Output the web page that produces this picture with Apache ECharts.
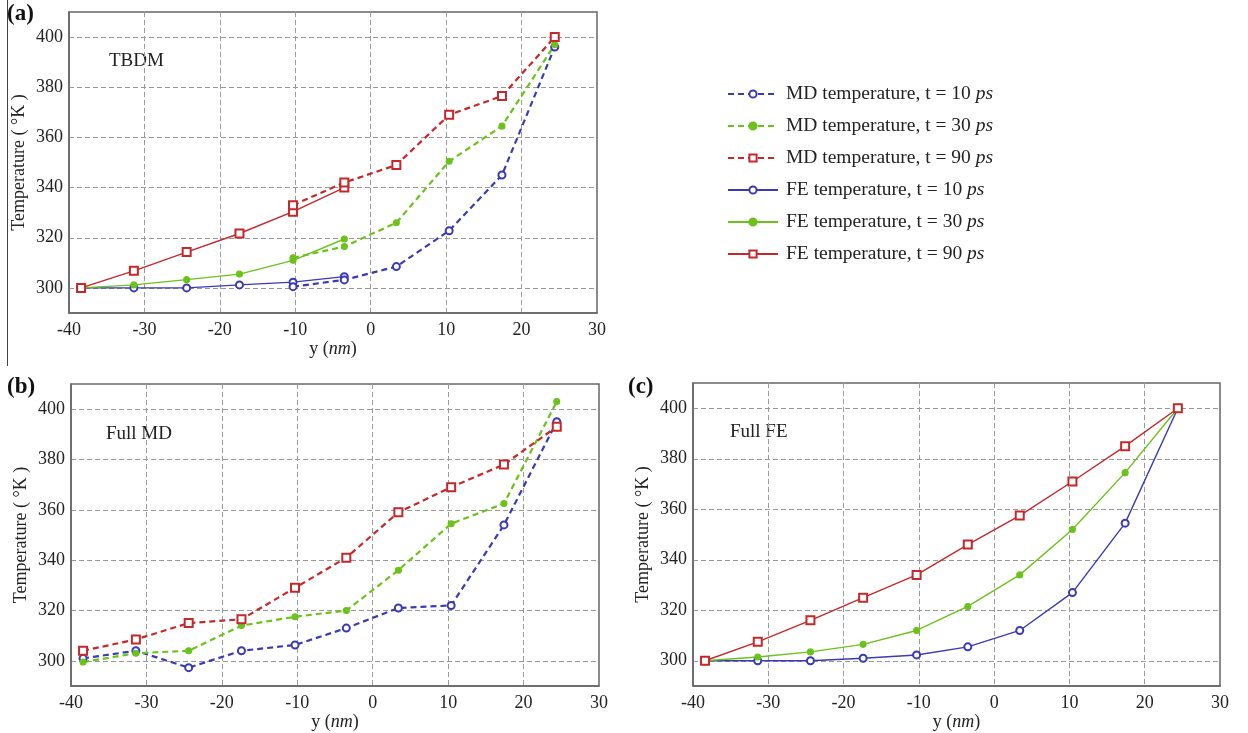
<!doctype html>
<html>
	<head>
		<meta charset="UTF-8">
		<title>Temperature profiles</title>
		<style>
			html, body { margin: 0; padding: 0; background: #fff; }
			#main { width: 1248px; height: 733px; }
		</style>
	</head>
	<body>
		<div id="main"></div>
		<script src="https://cdn.jsdelivr.net/npm/echarts@6.0.0/dist/echarts.min.js"></script>
		<script>
			// y positions (nm) of the sampled points
			var yPos = [-38.4, -31.4, -24.4, -17.4, -10.3, -3.5, 3.4, 10.4, 17.4, 24.4];
			var tempTicks = [300, 320, 340, 360, 380, 400];

			// (a) TBDM: MD part from -10.3 up, FE part up to -3.5
			var tbdmMd10 = [300.5, 303.2, 308.5, 322.8, 345, 396];
			var tbdmMd30 = [312, 316.5, 326, 350.5, 364.5, 397];
			var tbdmMd90 = [333, 342, 349, 369, 376.5, 400];
			var tbdmFe10 = [300, 300, 300, 301.2, 302.3, 304.5];
			var tbdmFe30 = [300, 301.2, 303.3, 305.5, 311, 319.5];
			var tbdmFe90 = [300, 306.8, 314.3, 321.7, 330.4, 340];

			// (b) Full MD
			var fullMd10 = [301, 304, 297.3, 304, 306.3, 313, 321, 322, 354, 395];
			var fullMd30 = [299.5, 303, 304, 314, 317.5, 320, 336, 354.5, 362.5, 403];
			var fullMd90 = [304, 308.5, 315, 316.5, 329, 341, 359, 369, 378, 393];

			// (c) Full FE
			var fullFe10 = [300, 300, 300, 301, 302.3, 305.5, 312, 327, 354.5, 400];
			var fullFe30 = [300, 301.5, 303.5, 306.5, 312, 321.5, 334, 352, 374.5, 400];
			var fullFe90 = [300, 307.5, 316, 325, 334, 346, 357.5, 371, 385, 400];

			var names = [
				'MD temperature, t = 10 ps',
				'MD temperature, t = 30 ps',
				'MD temperature, t = 90 ps',
				'FE temperature, t = 10 ps',
				'FE temperature, t = 30 ps',
				'FE temperature, t = 90 ps'
			];

			var BLUE = '#3a3ab2', GREEN = '#6cc21c', RED = '#c4282a';
			var FONT = '"Liberation Serif", "DejaVu Serif", serif';

			function pairs(xs, vals) {
				var out = [];
				for (var i = 0; i < vals.length; i++) out.push([xs[i], vals[i]]);
				return out;
			}

			function mkSeries(name, idx, xs, vals, color, md) {
				var sym = color == GREEN ? 'circle' : (color == RED ? 'emptyRect' : 'emptyCircle');
				return {
					name: name,
					type: 'line',
					xAxisIndex: idx,
					yAxisIndex: idx,
					data: pairs(xs, vals),
					symbol: sym,
					symbolSize: color == RED ? 8 : (color == GREEN ? 6 : 7),
					showAllSymbol: true,
					animation: false,
					color: color,
					itemStyle: { color: color, borderColor: color, borderWidth: 1.1 },
					lineStyle: md ? { color: color, width: 2.2, type: [6, 4] } : { color: color, width: 1.4, type: 'solid' },
					z: md ? 3 : 2
				};
			}

			var grids = [
				{ left: 69, top: 12, width: 528, height: 301 },
				{ left: 71, top: 384, width: 528, height: 302 },
				{ left: 693, top: 383, width: 527, height: 303 }
			];

			var xAxes = [], yAxes = [];
			for (var g = 0; g < 3; g++) {
				grids[g].show = true;
				grids[g].borderColor = '#666';
				grids[g].borderWidth = 1.5;
				grids[g].backgroundColor = '#fff';
				xAxes.push({
					type: 'value', gridIndex: g, min: -40, max: 30, interval: 10,
					axisLine: { show: true, onZero: false, lineStyle: { color: '#666', width: 1.5 } },
					axisTick: { show: false },
					axisLabel: { fontFamily: FONT, fontSize: 18, color: '#222', margin: 8 },
					splitLine: { show: true, showMinLine: false, showMaxLine: false, lineStyle: { color: '#999', width: 1, type: [5, 3] } },
					name: '{a|y (}{b|nm}{a|)}',
					nameLocation: 'middle',
					nameGap: 27,
					nameTextStyle: {
						rich: {
							a: { fontFamily: FONT, fontSize: 18, color: '#222' },
							b: { fontFamily: FONT, fontSize: 18, color: '#222', fontStyle: 'italic' }
						}
					}
				});
				yAxes.push({
					type: 'value', gridIndex: g, min: 290, max: 410,
					axisLine: { show: true, onZero: false, lineStyle: { color: '#666', width: 1.5 } },
					axisTick: { show: false, customValues: tempTicks },
					axisLabel: { fontFamily: FONT, fontSize: 18, color: '#222', margin: 6, customValues: tempTicks },
					splitLine: { show: true, lineStyle: { color: '#999', width: 1, type: [5, 3] } },
					name: 'Temperature ( \u00B0K )',
					nameLocation: 'middle',
					nameRotate: 90,
					nameGap: 41,
					nameTextStyle: { fontFamily: FONT, fontSize: 18, color: '#222' }
				});
			}

			var series = [
				mkSeries(names[0], 0, yPos.slice(4), tbdmMd10, BLUE, true),
				mkSeries(names[1], 0, yPos.slice(4), tbdmMd30, GREEN, true),
				mkSeries(names[2], 0, yPos.slice(4), tbdmMd90, RED, true),
				mkSeries(names[3], 0, yPos.slice(0, 6), tbdmFe10, BLUE, false),
				mkSeries(names[4], 0, yPos.slice(0, 6), tbdmFe30, GREEN, false),
				mkSeries(names[5], 0, yPos.slice(0, 6), tbdmFe90, RED, false),
				mkSeries(names[0], 1, yPos, fullMd10, BLUE, true),
				mkSeries(names[1], 1, yPos, fullMd30, GREEN, true),
				mkSeries(names[2], 1, yPos, fullMd90, RED, true),
				mkSeries(names[3], 2, yPos, fullFe10, BLUE, false),
				mkSeries(names[4], 2, yPos, fullFe30, GREEN, false),
				mkSeries(names[5], 2, yPos, fullFe90, RED, false)
			];

			var txt = { fontFamily: FONT, fontSize: 19, fill: '#222' };
			var bold = { fontFamily: FONT, fontSize: 23, fontWeight: 'bold', fill: '#111' };

			var option = {
				backgroundColor: '#fff',
				animation: false,
				grid: grids,
				xAxis: xAxes,
				yAxis: yAxes,
				legend: {
					left: 722,
					top: 79,
					orient: 'vertical',
					itemWidth: 50,
					itemHeight: 9,
					itemGap: 12,
					data: names,
					formatter: function(name) {
						return '{n|' + name.replace(' ps', ' ') + '}{i|ps}';
					},
					textStyle: {
						fontFamily: FONT, fontSize: 19.5, color: '#222', lineHeight: 20,
						rich: {
							n: { fontFamily: FONT, fontSize: 19.5, color: '#222', padding: [0, 0, 0, 3] },
							i: { fontFamily: FONT, fontSize: 19.5, color: '#222', fontStyle: 'italic' }
						}
					}
				},
				graphic: [
					{ type: 'line', shape: { x1: 7.5, y1: 0, x2: 7.5, y2: 366 }, style: { stroke: '#444', lineWidth: 1 } },
					{ type: 'text', left: 7, top: 3, style: Object.assign({ text: '(a)' }, bold) },
					{ type: 'text', left: 7, top: 376, style: Object.assign({ text: '(b)' }, bold) },
					{ type: 'text', left: 628, top: 376, style: Object.assign({ text: '(c)' }, bold) },
					{ type: 'text', left: 109, top: 52, style: Object.assign({ text: 'TBDM' }, txt) },
					{ type: 'text', left: 106, top: 425, style: Object.assign({ text: 'Full MD' }, txt) },
					{ type: 'text', left: 730, top: 423, style: Object.assign({ text: 'Full FE' }, txt) }
				],
				series: series
			};

			var myChart = echarts.init(document.getElementById('main'));
			myChart.setOption(option);
		</script>
	</body>
</html>
